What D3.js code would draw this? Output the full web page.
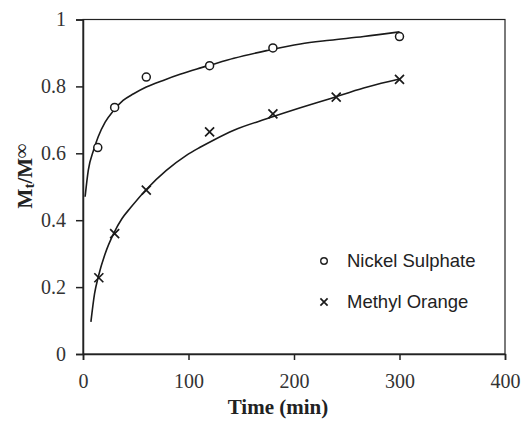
<!DOCTYPE html>
<html lang="en">
<head>
  <meta charset="UTF-8" />
  <title>Release kinetics</title>
  <script src="https://d3js.org/d3.v7.min.js"></script>
  <style>
    body { margin: 0; background: #fff; }
    .axis path, .axis line { stroke: #222; stroke-width: 1.5; }
    .tick text { font-family: "Liberation Serif", "Times New Roman", serif !important; font-size: 20px; fill: #333; }
    .fit { fill: none; stroke: #1a1a1a; stroke-width: 1.6; }
    .legend text { font-family: "Liberation Sans", Arial, sans-serif; font-size: 18.5px; fill: #222; }
  </style>
</head>
<body>
  <div id="chart"></div>
  <script>
    // measured points
    const nickelTime = [14, 30, 60, 120, 180, 300];
    const nickelValue = [0.617, 0.737, 0.828, 0.862, 0.915, 0.949];
    const methylTime = [15, 30, 60, 120, 180, 240, 300];
    const methylValue = [0.228, 0.36, 0.49, 0.664, 0.718, 0.768, 0.821];

    // fitted curves
    const nickelFitTime = [2, 5, 10, 14.5, 21, 29, 38, 48, 60, 76, 92, 108, 123, 143, 174, 206, 234, 266, 300];
    const nickelFitValue = [0.47, 0.549, 0.609, 0.65, 0.693, 0.728, 0.758, 0.778, 0.798, 0.818, 0.836, 0.852, 0.866, 0.884, 0.907, 0.927, 0.938, 0.949, 0.963];
    const methylFitTime = [7.5, 11, 14.5, 21, 29, 37, 45, 60, 79, 98, 111, 124, 143, 174, 206, 234, 266, 297, 300];
    const methylFitValue = [0.096, 0.181, 0.231, 0.30, 0.36, 0.405, 0.437, 0.492, 0.549, 0.594, 0.618, 0.64, 0.669, 0.703, 0.736, 0.763, 0.795, 0.82, 0.822];

    const xTicks = [0, 100, 200, 300, 400];
    const yTicks = [0, 0.2, 0.4, 0.6, 0.8, 1];
    const legendLabels = ["Nickel Sulphate", "Methyl Orange"];

    const serif = "'Liberation Serif', 'Times New Roman', serif";
    const width = 522, height = 422;
    const margin = { top: 19.5, right: 17, bottom: 68, left: 83 };
    const w = width - margin.left - margin.right;
    const h = height - margin.top - margin.bottom;

    const svg = d3.select("#chart").append("svg")
      .attr("width", width).attr("height", height);
    const g = svg.append("g").attr("transform", `translate(${margin.left},${margin.top})`);

    const x = d3.scaleLinear().domain([0, 400]).range([0, w]);
    const y = d3.scaleLinear().domain([0, 1]).range([h, 0]);

    // frame
    g.append("rect").attr("width", w).attr("height", h)
      .attr("fill", "none").attr("stroke", "#222").attr("stroke-width", 1.2);

    const xAxis = g.append("g").attr("class", "axis")
      .attr("transform", `translate(0,${h})`)
      .call(d3.axisBottom(x).tickValues(xTicks).tickFormat(d3.format("d")).tickSizeOuter(0).tickSize(6).tickPadding(14));

    const yAxis = g.append("g").attr("class", "axis")
      .call(d3.axisLeft(y).tickValues(yTicks).tickFormat(d => d === 0 || d === 1 ? d : d.toFixed(1)).tickSizeOuter(0).tickSize(7).tickPadding(10));

    [xAxis, yAxis].forEach(a => {
      a.attr("font-family", null).attr("font-size", null);
      a.selectAll("text").style("font-family", serif).style("font-size", "20px").style("fill", "#333");
    });

    // fitted lines
    const line = d3.line().x(d => x(d[0])).y(d => y(d[1])).curve(d3.curveMonotoneX);
    g.append("path").attr("class", "fit").attr("d", line(d3.zip(nickelFitTime, nickelFitValue)));
    g.append("path").attr("class", "fit").attr("d", line(d3.zip(methylFitTime, methylFitValue)));

    function cross(sel, s) {
      sel.append("path")
        .attr("d", `M${-s},${-s}L${s},${s}M${-s},${s}L${s},${-s}`)
        .attr("stroke", "#1a1a1a").attr("stroke-width", 1.7).attr("fill", "none");
    }

    // nickel sulphate points
    g.selectAll(".ni").data(d3.zip(nickelTime, nickelValue)).enter()
      .append("circle").attr("class", "ni")
      .attr("cx", d => x(d[0])).attr("cy", d => y(d[1])).attr("r", 4)
      .attr("fill", "#fff").attr("stroke", "#1a1a1a").attr("stroke-width", 1.5);

    // methyl orange points
    g.selectAll(".mo").data(d3.zip(methylTime, methylValue)).enter()
      .append("g").attr("class", "mo")
      .attr("transform", d => `translate(${x(d[0])},${y(d[1])})`)
      .each(function() { cross(d3.select(this), 4.5); });

    // legend
    const legend = svg.append("g").attr("class", "legend");
    legendLabels.forEach((label, i) => {
      const ly = 261 + i * 41;
      const item = legend.append("g").attr("transform", `translate(324,${ly})`);
      if (i === 0) {
        item.append("circle").attr("r", 3.3).attr("fill", "none")
          .attr("stroke", "#222").attr("stroke-width", 1.4);
      } else {
        cross(item, 3.6);
      }
      item.append("text").attr("x", 23).attr("dy", "0.35em").text(label);
    });

    // axis titles
    svg.append("text")
      .attr("x", 278).attr("y", 414)
      .attr("text-anchor", "middle")
      .style("font-family", serif)
      .style("font-size", "21px").style("font-weight", "bold").style("fill", "#222")
      .text("Time (min)");

    const yl = svg.append("text")
      .attr("transform", "translate(32,176) rotate(-90)")
      .attr("text-anchor", "middle")
      .style("font-family", serif)
      .style("font-size", "21px").style("font-weight", "bold").style("fill", "#222");
    yl.append("tspan").text("M");
    yl.append("tspan").attr("dy", 2).style("font-size", "15px").text("t");
    yl.append("tspan").attr("dy", -2).text("/M");
    yl.append("tspan").attr("dy", -4).style("font-size", "20px").text("\u221e");
  </script>
</body>
</html>
